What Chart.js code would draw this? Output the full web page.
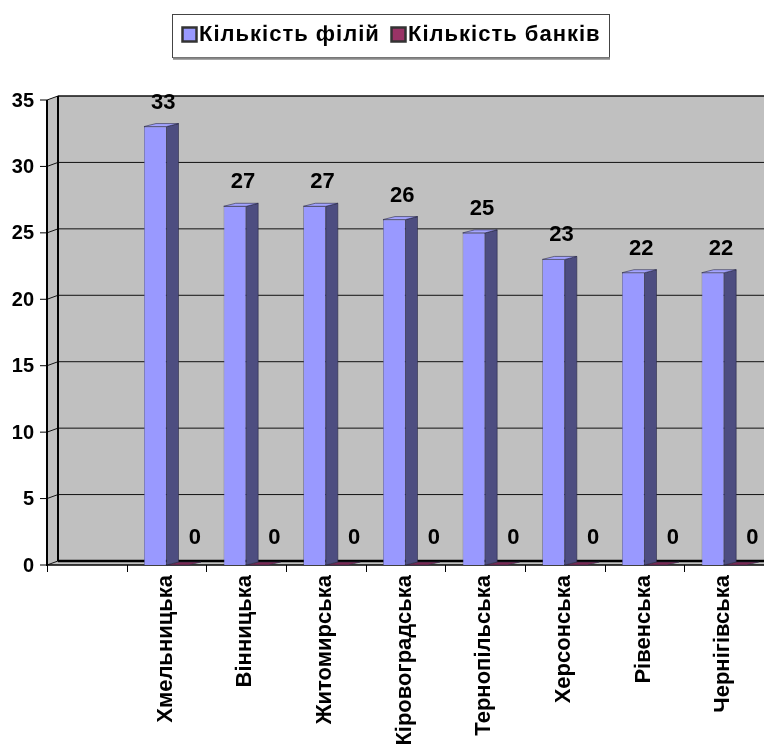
<!DOCTYPE html>
<html lang="uk">
<head>
<meta charset="utf-8">
<title>Кількість філій та банків</title>
<script src="https://cdn.jsdelivr.net/npm/chart.js@4/dist/chart.umd.min.js"></script>
<style>
  html, body { margin: 0; padding: 0; background: #fff; }
  canvas { display: block; }
</style>
</head>
<body>
<canvas id="grafik" width="764" height="745"></canvas>
<script>
// Дані по областях (перша позиція порожня)
const oblasti = ['', 'Хмельницька', 'Вінницька', 'Житомирська', 'Кіровоградська',
  'Тернопільська', 'Херсонська', 'Рівенська', 'Чернігівська'];
const kilkistFilij = [null, 33, 27, 27, 26, 25, 23, 22, 22];
const kilkistBankiv = [null, 0, 0, 0, 0, 0, 0, 0, 0];
const pidpysySerij = ['Кількість філій', 'Кількість банків'];
const pozdilkyY = [0, 5, 10, 15, 20, 25, 30, 35];

const SHRYFT = 'Liberation Sans, Arial, sans-serif';
const KOLIR_FILII = '#9999FF';
const KOLIR_BANKY = '#993366';
const SIRYI = '#C0C0C0';

// зсув глибини для стінок і стовпців
const STINA_DX = 11, STINA_DY = -4;
const STOVP_DX = 12, STOVP_DY = -3;

function polygon(ctx, pts, fill, stroke, lw) {
  ctx.beginPath();
  ctx.moveTo(pts[0][0], pts[0][1]);
  for (let i = 1; i < pts.length; i++) ctx.lineTo(pts[i][0], pts[i][1]);
  ctx.closePath();
  if (fill) { ctx.fillStyle = fill; ctx.fill(); }
  if (stroke) { ctx.strokeStyle = stroke; ctx.lineWidth = lw || 1; ctx.stroke(); }
}

function line(ctx, x1, y1, x2, y2, lw, color) {
  ctx.beginPath();
  ctx.moveTo(x1, y1);
  ctx.lineTo(x2, y2);
  ctx.lineWidth = lw;
  ctx.strokeStyle = color || '#000';
  ctx.stroke();
}

// Стінки, підлога, сітка, осі та легенда
const fon3d = {
  id: 'fon3d',
  beforeDatasetsDraw(chart) {
    const { ctx, chartArea: a, scales: { x, y } } = chart;
    const front = v => y.getPixelForValue(v);
    const back = v => front(v) + STINA_DY;
    const L = a.left, R = chart.width;
    const BL = L + STINA_DX;
    ctx.save();

    // задня стінка
    ctx.fillStyle = SIRYI;
    ctx.fillRect(BL, back(35), R - BL, back(0) - back(35));
    // бічна стінка
    polygon(ctx, [[L, front(35)], [BL, back(35)], [BL, back(0)], [L, front(0)]], SIRYI);
    // підлога
    polygon(ctx, [[L, front(0)], [BL, back(0)], [R, back(0)], [R, front(0)]], SIRYI);

    // сітка на задній стінці
    pozdilkyY.forEach(v => {
      if (v > 0 && v < 35) line(ctx, BL, back(v), R, back(v), 1, '#111');
      line(ctx, L, front(v), BL, back(v), 1, '#111');
      line(ctx, L - 7, front(v), L, front(v), 1, '#000');
    });
    line(ctx, BL, back(35), R, back(35), 1.5, '#111');
    line(ctx, BL, back(35), BL, back(0), 2, '#000');
    line(ctx, BL, back(0), R, back(0), 2.5, '#000');
    line(ctx, L, front(0), R, front(0), 1.5, '#000');
    line(ctx, L, front(35), L, front(0) + 1, 2, '#000');

    // позначки категорій
    const krok = (a.right - a.left) / oblasti.length;
    for (let i = 0; i <= oblasti.length; i++) {
      const px = Math.round(L + krok * i) + 0.5;
      line(ctx, px, front(0), px, front(0) + 7, 1, '#000');
    }

    // підписи осі Y
    ctx.fillStyle = '#000';
    ctx.font = 'bold 20px ' + SHRYFT;
    ctx.textAlign = 'right';
    ctx.textBaseline = 'middle';
    pozdilkyY.forEach(v => ctx.fillText(String(v), 34, front(v) + 1));

    // підписи категорій (повернуті)
    ctx.font = 'bold 22px ' + SHRYFT;
    oblasti.forEach((nazva, i) => {
      if (!nazva) return;
      ctx.save();
      ctx.translate(x.getPixelForValue(i) - 1, front(0) + 10);
      ctx.rotate(-Math.PI / 2);
      ctx.textAlign = 'right';
      ctx.textBaseline = 'middle';
      ctx.fillText(nazva, 0, 0);
      ctx.restore();
    });

    // легенда
    const lx = 172, ly = 14, lw = 437, lh = 43;
    ctx.fillStyle = '#fff';
    ctx.fillRect(lx, ly, lw, lh);
    ctx.strokeStyle = '#444';
    ctx.lineWidth = 1;
    ctx.strokeRect(lx + 0.5, ly + 0.5, lw, lh);
    line(ctx, lx + 1, ly + lh + 1.5, lx + lw + 1, ly + lh + 1.5, 2.5, '#888');
    const elementy = [
      { x: 182, kolir: KOLIR_FILII, text: pidpysySerij[0] },
      { x: 391, kolir: KOLIR_BANKY, text: pidpysySerij[1] }
    ];
    ctx.font = 'bold 22px ' + SHRYFT;
    ctx.letterSpacing = '1px';
    ctx.textAlign = 'left';
    ctx.textBaseline = 'middle';
    elementy.forEach(e => {
      ctx.fillStyle = e.kolir;
      ctx.fillRect(e.x, 27, 15, 15);
      ctx.strokeStyle = '#333';
      ctx.strokeRect(e.x + 0.5, 27.5, 14, 14);
      ctx.fillStyle = '#000';
      ctx.fillText(e.text, e.x + 17, 35);
    });
    ctx.letterSpacing = '0px';
    ctx.restore();
  },

  // бічні грані, верхівки та підписи значень
  afterDatasetsDraw(chart) {
    const { ctx } = chart;
    ctx.save();
    const tini = [['#4D4D80', '#A3A3FF'], ['#5C1F3D', '#7A2952']];
    for (let d = chart.data.datasets.length - 1; d >= 0; d--) {
      const meta = chart.getDatasetMeta(d);
      meta.data.forEach((bar, i) => {
        const v = chart.data.datasets[d].data[i];
        if (v === null) return;
        const l = bar.x - bar.width / 2, r = bar.x + bar.width / 2;
        const t = bar.y, b = bar.base;
        if (b - t > 0) {
          polygon(ctx, [[r, t], [r + STOVP_DX, t + STOVP_DY], [r + STOVP_DX, b + STOVP_DY], [r, b]],
            tini[d][0], '#2a2a45', 0.6);
        }
        polygon(ctx, [[l, t], [r, t], [r + STOVP_DX, t + STOVP_DY], [l + STOVP_DX, t + STOVP_DY]],
          tini[d][1], '#2a2a45', 0.6);
      });
    }
    // підписи значень
    ctx.fillStyle = '#000';
    ctx.font = 'bold 22px ' + SHRYFT;
    ctx.textAlign = 'center';
    ctx.textBaseline = 'middle';
    chart.data.datasets.forEach((ds, d) => {
      chart.getDatasetMeta(d).data.forEach((bar, i) => {
        const v = ds.data[i];
        if (v === null) return;
        const zsuv = d === 0 ? [8, -24] : [17, -27];
        ctx.fillText(String(v), bar.x + zsuv[0], bar.y + zsuv[1]);
      });
    });
    ctx.restore();
  }
};

new Chart(document.getElementById('grafik'), {
  type: 'bar',
  data: {
    labels: oblasti,
    datasets: [
      { label: pidpysySerij[0], data: kilkistFilij, backgroundColor: KOLIR_FILII,
        borderColor: '#3a3a66', borderWidth: 0.6 },
      { label: pidpysySerij[1], data: kilkistBankiv, backgroundColor: KOLIR_BANKY,
        borderColor: KOLIR_BANKY, borderWidth: 0 }
    ]
  },
  options: {
    responsive: false,
    animation: false,
    devicePixelRatio: 1,
    layout: { padding: { left: 47, right: 0, top: 100, bottom: 180 } },
    datasets: { bar: { categoryPercentage: 0.565, barPercentage: 1 } },
    scales: {
      x: { display: false, offset: true },
      y: { display: false, min: 0, max: 35 }
    },
    plugins: { legend: { display: false }, tooltip: { enabled: false } }
  },
  plugins: [fon3d]
});
</script>
</body>
</html>
